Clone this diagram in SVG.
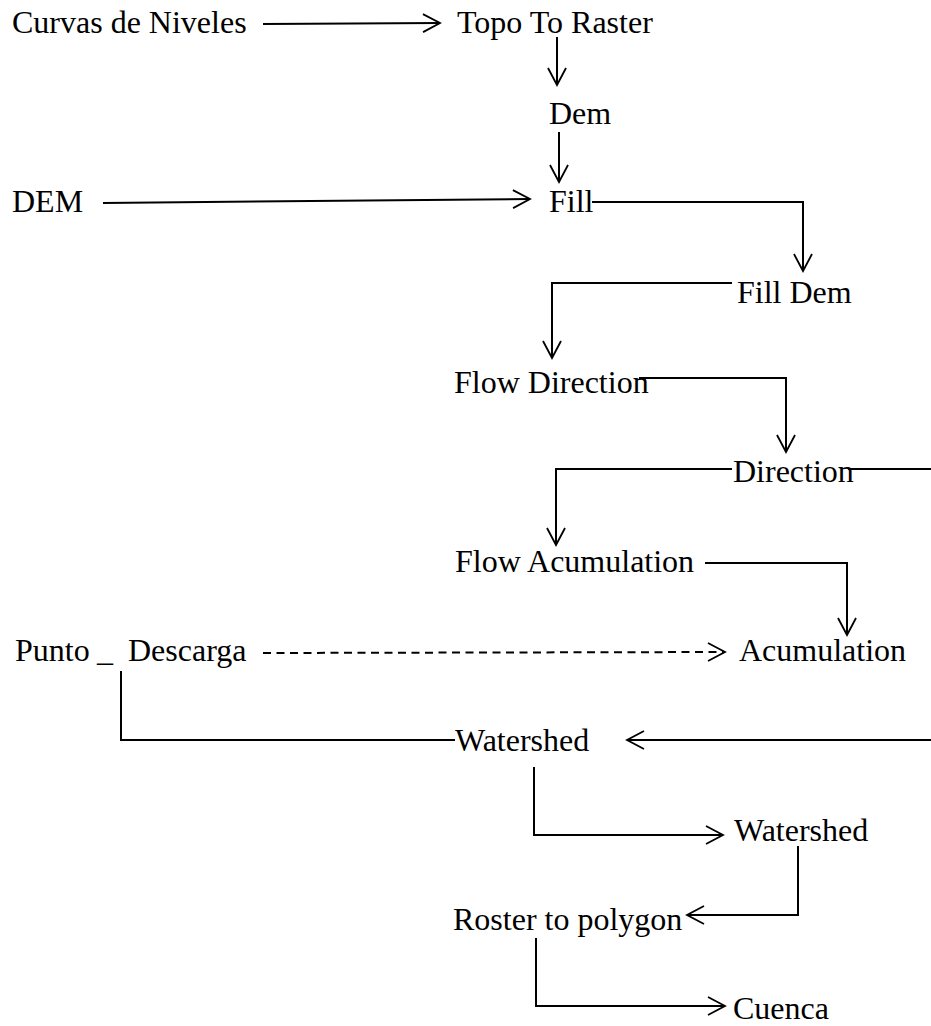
<svg xmlns="http://www.w3.org/2000/svg" width="931" height="1026" viewBox="0 0 931 1026">
<style>
text{font-family:"Liberation Serif","Times New Roman",serif;font-size:32px;fill:#000}
.c{fill:none;stroke:#000;stroke-width:2}
.d{stroke-dasharray:8 5.5}
</style>
<defs>
<marker id="a" markerUnits="userSpaceOnUse" viewBox="0 0 20 20" refX="18" refY="10" markerWidth="20" markerHeight="20" orient="auto">
<path d="M1,1 L18,10 L1,19" fill="none" stroke="#000" stroke-width="1.8"/>
</marker>
</defs>
<rect width="931" height="1026" fill="#fff"/>
<g id="n1"><text x="12" y="33">Curvas de Niveles</text></g>
<g id="n2"><text x="457" y="33">Topo To Raster</text></g>
<g id="n3"><text x="549" y="124">Dem</text></g>
<g id="n4"><text x="12" y="212">DEM</text></g>
<g id="n5"><text x="549" y="212">Fill</text></g>
<g id="n6"><text x="737" y="303">Fill Dem</text></g>
<g id="n7"><text x="454" y="393">Flow Direction</text></g>
<g id="n8"><text x="733" y="482">Direction</text></g>
<g id="n9"><text x="455" y="572">Flow Acumulation</text></g>
<g id="n10"><text x="15" y="661">Punto</text><text x="97" y="661">_</text><text x="128" y="661">Descarga</text></g>
<g id="n11"><text x="739" y="661">Acumulation</text></g>
<g id="n12"><text x="455" y="751">Watershed</text></g>
<g id="n13"><text x="734" y="841">Watershed</text></g>
<g id="n14"><text x="453" y="930">Roster to polygon</text></g>
<g id="n15"><text x="733" y="1019">Cuenca</text></g>
<g id="connectors">
<path class="c" d="M263,24 L440,23" marker-end="url(#a)"/>
<path class="c" d="M557,37 L557,85" marker-end="url(#a)"/>
<path class="c" d="M559,132 L559,182" marker-end="url(#a)"/>
<path class="c" d="M103,203 L530,199" marker-end="url(#a)"/>
<path class="c" d="M592,202 L803,202 L803,271" marker-end="url(#a)"/>
<path class="c" d="M732,283 L552,283 L552,358" marker-end="url(#a)"/>
<path class="c" d="M639,378 L786,378 L786,452" marker-end="url(#a)"/>
<path class="c" d="M732,469 L556,469 L556,545" marker-end="url(#a)"/>
<path class="c" d="M848,469 L931,469"/>
<path class="c" d="M705,563 L847,563 L847,635" marker-end="url(#a)"/>
<path class="c d" d="M263,653 L725,652" marker-end="url(#a)"/>
<path class="c" d="M121,671 L121,740 L455,740"/>
<path class="c" d="M931,740 L627,740" marker-end="url(#a)"/>
<path class="c" d="M534,767 L534,835 L723,835" marker-end="url(#a)"/>
<path class="c" d="M798,846 L798,915 L687,915" marker-end="url(#a)"/>
<path class="c" d="M536,938 L536,1006 L725,1006" marker-end="url(#a)"/>
</g>
</svg>
